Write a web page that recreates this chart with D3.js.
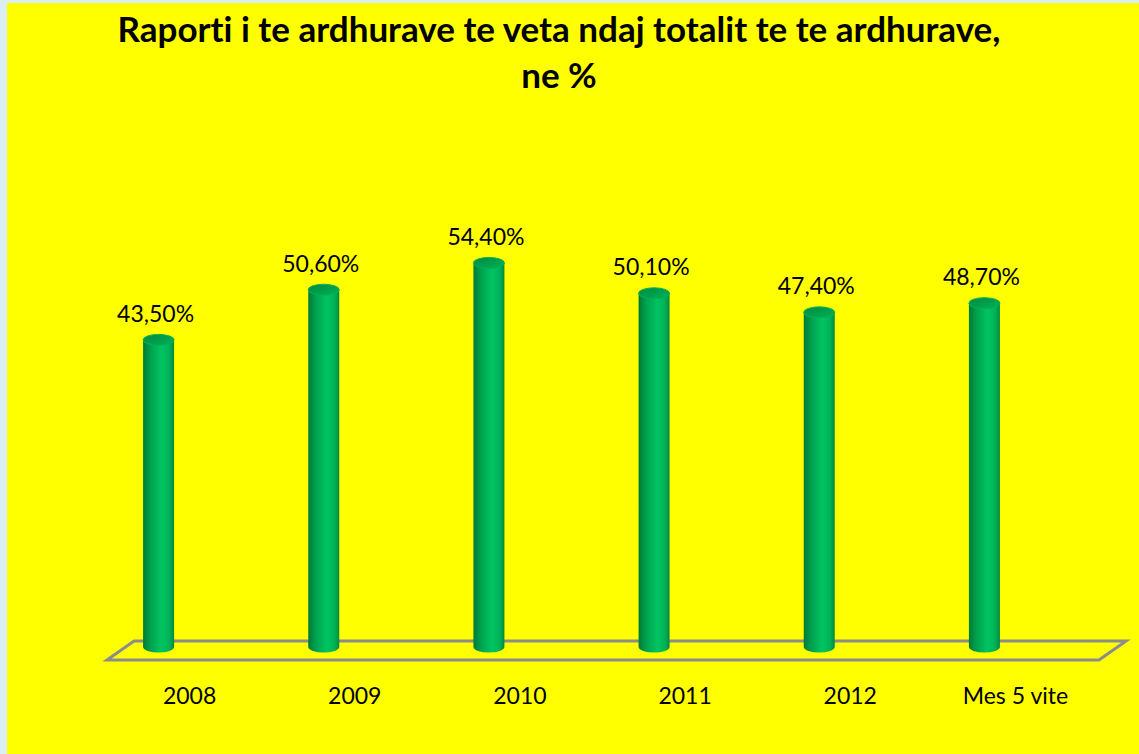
<!DOCTYPE html>
<html>
<head>
<meta charset="utf-8">
<script src="https://cdn.jsdelivr.net/npm/d3@7"></script>
<style>
  body { margin: 0; background: #dbeef4; }
  svg { display: block; }
  text { font-variant-ligatures: none; }
</style>
</head>
<body>
<div id="chart"></div>
<script>
// Chart data
const categories = ["2008", "2009", "2010", "2011", "2012", "Mes 5 vite"];
const values = [43.5, 50.6, 54.4, 50.1, 47.4, 48.7];
const valueLabels = ["43,50%", "50,60%", "54,40%", "50,10%", "47,40%", "48,70%"];
const titleLines = ["Raporti i te ardhurave te veta ndaj totalit te te ardhurave,", "ne %"];

const width = 1139, height = 754;
const baseY = 647;          // centre of cylinder bottoms
const depth = {dx: 27, dy: 19};  // floor perspective offset
const rx = 15.5, ry = 5.5;

const svg = d3.select("#chart").append("svg")
  .attr("width", width)
  .attr("height", height);

// gradients for the cylinders
const defs = svg.append("defs");
const sideGrad = defs.append("linearGradient").attr("id", "cylSide")
  .attr("x1", "0%").attr("x2", "100%").attr("y1", "0%").attr("y2", "0%");
[["0%", "#007a36"], ["25%", "#00a24f"], ["60%", "#00c462"], ["85%", "#00b257"], ["100%", "#008a3e"]]
  .forEach(([o, c]) => sideGrad.append("stop").attr("offset", o).attr("stop-color", c));
const topGrad = defs.append("linearGradient").attr("id", "cylTop")
  .attr("x1", "0%").attr("x2", "100%").attr("y1", "0%").attr("y2", "100%");
[["0%", "#008a40"], ["100%", "#00b257"]]
  .forEach(([o, c]) => topGrad.append("stop").attr("offset", o).attr("stop-color", c));

// yellow chart area
svg.append("rect")
  .attr("x", 7).attr("y", 3)
  .attr("width", width - 7).attr("height", height - 3)
  .attr("fill", "#ffff00");

// Scales
const x = d3.scaleBand()
  .domain(categories)
  .range([76, 1067])
  .padding(0);

const y = d3.scaleLinear()
  .domain([0, 60])
  .range([baseY, baseY - 60 * 7.06]);

// Title
svg.append("g").selectAll("text")
  .data(titleLines)
  .join("text")
  .attr("x", 559)
  .attr("y", (d, i) => 42 + i * 46)
  .attr("text-anchor", "middle")
  .attr("font-family", "Lato, 'Open Sans', sans-serif")
  .attr("font-weight", "bold")
  .attr("font-size", 35)
  .attr("fill", "#000")
  .text(d => d);

// Floor (parallelogram)
const [r0, r1] = x.range();
const floorFront = 660, floorLeft = r0 + 31, floorRight = r1 + 32;
svg.append("path")
  .attr("d", `M${floorLeft},${floorFront} L${floorLeft + depth.dx},${floorFront - depth.dy} ` +
             `L${floorRight + depth.dx},${floorFront - depth.dy} L${floorRight},${floorFront} Z`)
  .attr("fill", "none")
  .attr("stroke", "#8c8c8c")
  .attr("stroke-width", 3)
  .attr("stroke-linejoin", "miter");

// Cylinders
const cyl = svg.append("g").selectAll("g")
  .data(categories.map((c, i) => ({cat: c, value: values[i], label: valueLabels[i]})))
  .join("g");

const cx = d => x(d.cat) + x.bandwidth() / 2;

cyl.append("path")
  .attr("d", d => {
    const l = cx(d) - rx, r = cx(d) + rx, t = y(d.value);
    return `M${l},${t} L${l},${baseY} A${rx},${ry} 0 0 0 ${r},${baseY} L${r},${t} Z`;
  })
  .attr("fill", "url(#cylSide)");

cyl.append("ellipse")
  .attr("cx", cx)
  .attr("cy", d => y(d.value))
  .attr("rx", rx)
  .attr("ry", ry)
  .attr("fill", "url(#cylTop)")
  .attr("stroke", "#00b257")
  .attr("stroke-width", 1);

// Value labels
cyl.append("text")
  .attr("x", d => cx(d) - 3)
  .attr("y", d => y(d.value) - 18)
  .attr("text-anchor", "middle")
  .attr("font-family", "Lato, 'Open Sans', sans-serif")
  .attr("font-size", 23)
  .attr("fill", "#000")
  .text(d => d.label);

// Category labels
svg.append("g").selectAll("text")
  .data(categories)
  .join("text")
  .attr("x", d => x(d) + x.bandwidth() / 2 + 31)
  .attr("y", 704)
  .attr("text-anchor", "middle")
  .attr("font-family", "Lato, 'Open Sans', sans-serif")
  .attr("font-size", 23)
  .attr("fill", "#000")
  .text(d => d);
</script>
</body>
</html>
